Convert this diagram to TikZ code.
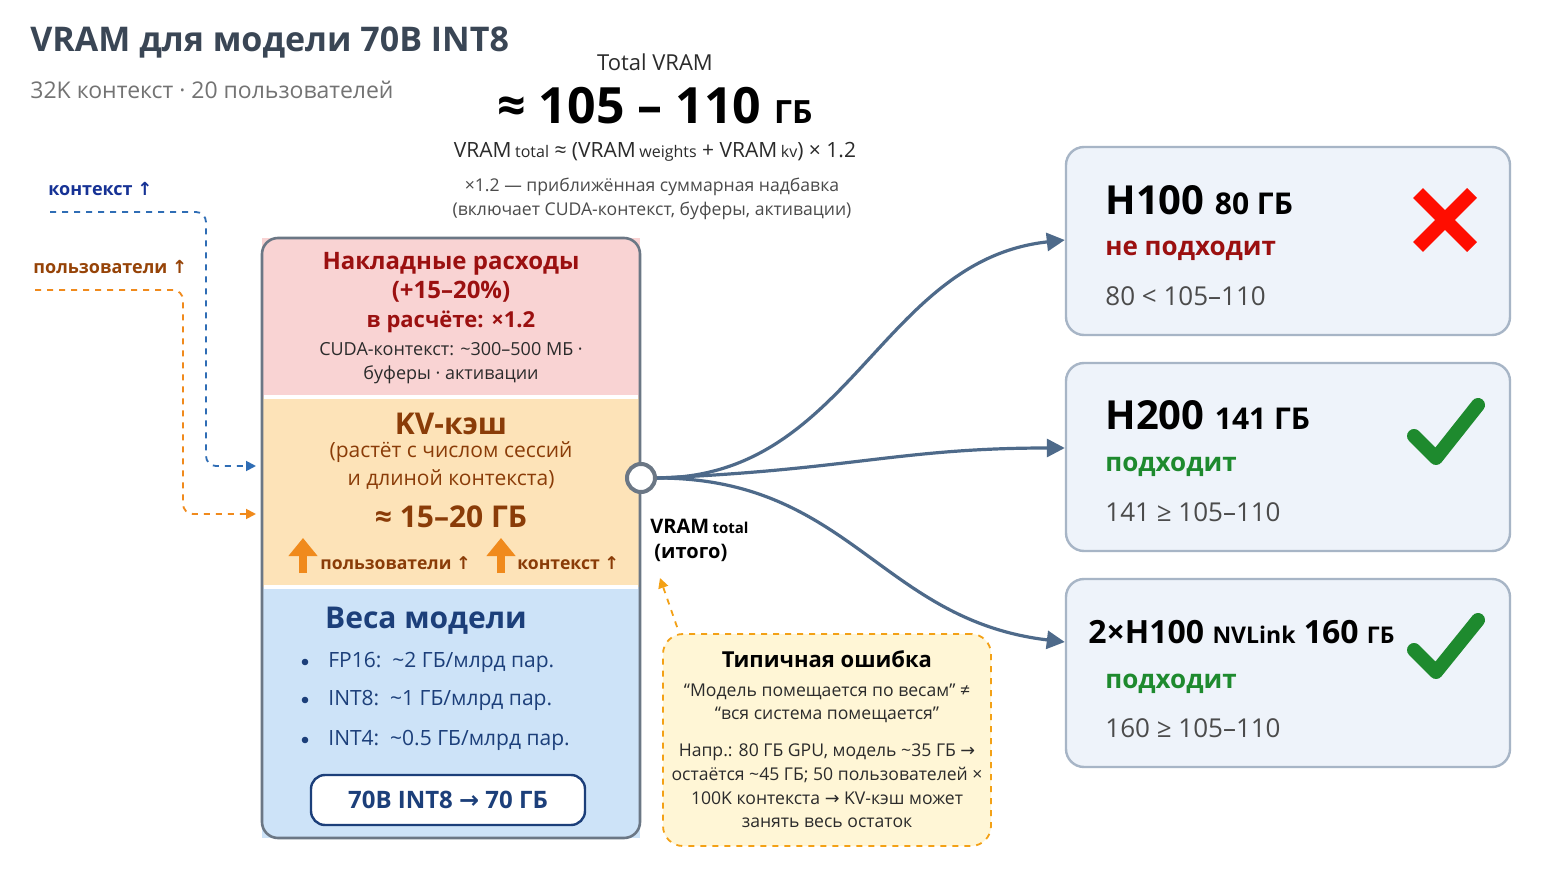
\documentclass[tikz,border=0pt]{standalone}
\usepackage{fontspec}
\setmainfont{Open Sans}
\newfontfamily\djv{DejaVu Sans}
\newcommand{\up}{{\djv ↑}}
\newcommand{\ra}{{\djv →}}
\usetikzlibrary{arrows.meta}
\definecolor{navy}{HTML}{1C3F7A}
\definecolor{dred}{HTML}{9B1010}
\definecolor{brn}{HTML}{8A3C08}
\definecolor{org}{HTML}{F08A1C}
\definecolor{blu}{HTML}{2F6DB5}
\definecolor{cur}{HTML}{4E6A8A}
\definecolor{gpufill}{HTML}{EEF3FA}
\definecolor{gpuline}{HTML}{A7B5C6}
\definecolor{okg}{HTML}{1E8A2E}
\definecolor{txt}{HTML}{2B2B2B}
\definecolor{redf}{HTML}{F9D3D3}
\definecolor{orf}{HTML}{FDE3B8}
\definecolor{blf}{HTML}{CDE3F8}
\definecolor{stk}{HTML}{6B7785}
\definecolor{errf}{HTML}{FFF6D6}
\definecolor{ttl}{HTML}{3A4655}
\begin{document}
\begin{tikzpicture}[x=0.5pt,y=-0.5pt,
  t/.style={inner sep=0pt,anchor=center,text=txt},
  tl/.style={inner sep=0pt,anchor=west,text=txt},
  gpu/.style={draw=gpuline,line width=1.2pt,fill=gpufill,rounded corners=9pt},
  conn/.style={draw=cur,line width=1.6pt,-{Triangle[length=9pt,width=9pt]}},
  dsh/.style={dashed,line width=0.9pt,-{Triangle[length=5pt,width=5pt]}}]
\useasboundingbox (0,0) rectangle (1560,877);
\fill[white] (0,0) rectangle (1560,877);
% titles
\node[tl,text=ttl,font=\bfseries\fontsize{17}{20}\selectfont] (title) at (30,43) {VRAM для модели 70B INT8};
\node[tl,text=gray!90!black,font=\fontsize{11.5}{14}\selectfont] (sub) at (30,90) {32K контекст · 20 пользователей};
\node[t,font=\fontsize{11}{13}\selectfont] (tv) at (655,62) {Total VRAM};
\node[t,text=black,font=\bfseries\fontsize{25}{30}\selectfont] (big) at (655,106) {≈ 105 – 110 {\fontsize{16}{20}\selectfont ГБ}};
\node[t,font=\fontsize{10.5}{13}\selectfont] (form) at (655,152) {VRAM\,{\footnotesize total} ≈ (VRAM\,{\footnotesize weights} + VRAM\,{\footnotesize kv}) × 1.2};
\node[t,text=txt!85,font=\fontsize{8.8}{11}\selectfont,align=center] (note) at (652,199) {×1.2 — приближённая суммарная надбавка\\[1pt](включает CUDA-контекст, буферы, активации)};
% stack
\fill[redf] (262,238) rectangle (640,397);
\fill[orf] (262,397) rectangle (640,587);
\fill[blf] (262,587) rectangle (640,838);
\draw[white,line width=2pt] (264,397) -- (638,397) (264,587) -- (638,587);
\draw[stk,line width=1.3pt,rounded corners=8pt] (262,238) rectangle (640,838);
\node[t,text=dred,font=\bfseries\fontsize{12}{14}\selectfont] (oh) at (451,264) {Накладные расходы};
\node[t,text=dred,font=\bfseries\fontsize{12}{14}\selectfont] (ohp) at (451,292) {(+15–20\%)};
\node[t,text=dred,font=\bfseries\fontsize{11}{13}\selectfont] (ohc) at (451,322) {в расчёте: ×1.2};
\node[t,font=\fontsize{9}{11}\selectfont,align=center] (ohd) at (451,363) {CUDA-контекст: \textasciitilde300–500 МБ ·\\[1pt]буферы · активации};
\node[t,text=brn,font=\bfseries\fontsize{15}{18}\selectfont] (kv) at (451,424) {KV-кэш};
\node[t,text=brn,font=\fontsize{10.5}{13}\selectfont,align=center] (kvd) at (451,466) {(растёт с числом сессий\\[1pt]и длиной контекста)};
\node[t,text=brn,font=\bfseries\fontsize{15}{18}\selectfont] (kvs) at (451,517) {≈ 15–20 ГБ};
\draw[org,line width=4pt,-{Triangle[length=9pt,width=14pt]}] (303,573) -- (303,538);
\draw[org,line width=4pt,-{Triangle[length=9pt,width=14pt]}] (501,573) -- (501,538);
\node[tl,text=brn,font=\bfseries\fontsize{8.8}{11}\selectfont] (ku) at (320,563) {пользователи \up};
\node[tl,text=brn,font=\bfseries\fontsize{8.8}{11}\selectfont] (kc) at (517,563) {контекст \up};
\node[t,text=navy,font=\bfseries\fontsize{15}{18}\selectfont] (w) at (426,621) {Веса модели};
\foreach \y/\s in {662/{FP16:\ \ \textasciitilde2 ГБ/млрд пар.},700/{INT8:\ \ \textasciitilde1 ГБ/млрд пар.},740/{INT4:\ \ \textasciitilde0.5 ГБ/млрд пар.}}{
  \fill[navy] (305,\y) circle (3.3);
  \node[tl,text=navy,font=\fontsize{10.5}{13}\selectfont] at (328,\y) {\s};}
\node[draw=navy,line width=1.2pt,fill=white,rounded corners=7pt,minimum width=137pt,minimum height=25pt,text=navy,font=\bfseries\fontsize{12}{14}\selectfont] (res) at (448,800) {70B INT8 \ra{} 70 ГБ};
% left annotations
\node[tl,text=navy!80!blue,font=\bfseries\fontsize{9}{11}\selectfont] (lc) at (48,189) {контекст \up};
\node[tl,text=brn!90!orange,font=\bfseries\fontsize{9}{11}\selectfont] (lu) at (33,267) {пользователи \up};
\coordinate (c1) at (256,466);
\coordinate (c2) at (256,514);
\draw[blu,dsh,rounded corners=5pt] (50,212) -- (206,212) -- (206,466) -- (c1);
\draw[org,dsh,rounded corners=5pt] (35,290) -- (183,290) -- (183,514) -- (c2);
% hub
\node[circle,draw=stk,line width=2pt,fill=white,minimum size=14pt,inner sep=0pt] (hub) at (641,478) {};
\node[tl,text=black,font=\bfseries\fontsize{10}{12}\selectfont] (vt) at (650,526) {VRAM\,{\fontsize{7.5}{9}\selectfont total}};
\node[tl,text=black,font=\bfseries\fontsize{10}{12}\selectfont] (vi) at (654,553) {(итого)};
% GPU boxes
\node[gpu,minimum width=222pt,minimum height=94pt] (g1) at (1288,241) {};
\node[gpu,minimum width=222pt,minimum height=94pt] (g2) at (1288,457) {};
\node[gpu,minimum width=222pt,minimum height=94pt] (g3) at (1288,673) {};
\node[tl,text=black,font=\bfseries\fontsize{20}{24}\selectfont] at (1105,200) {H100 {\fontsize{15}{18}\selectfont 80 ГБ}};
\node[tl,text=dred,font=\bfseries\fontsize{13}{15}\selectfont] at (1105,251) {не подходит};
\node[tl,text=txt!85,font=\fontsize{13}{15}\selectfont] at (1105,296) {80 < 105–110};
\node[tl,text=black,font=\bfseries\fontsize{20}{24}\selectfont] at (1105,415) {H200 {\fontsize{15}{18}\selectfont 141 ГБ}};
\node[tl,text=okg,font=\bfseries\fontsize{13}{15}\selectfont] at (1105,467) {подходит};
\node[tl,text=txt!85,font=\fontsize{13}{15}\selectfont] at (1105,512) {141 ≥ 105–110};
\node[tl,text=black,font=\bfseries\fontsize{16}{22}\selectfont] at (1088,632) {2×H100 {\fontsize{11.5}{16}\selectfont NVLink} 160 {\fontsize{11.5}{16}\selectfont ГБ}};
\node[tl,text=okg,font=\bfseries\fontsize{13}{15}\selectfont] at (1105,684) {подходит};
\node[tl,text=txt!85,font=\fontsize{13}{15}\selectfont] at (1105,728) {160 ≥ 105–110};
\draw[red!90!orange,line width=7pt] (1418,193) -- (1472,247) (1472,193) -- (1418,247);
\draw[okg,line width=7pt,line cap=round,line join=round] (1414,436) -- (1436,458) -- (1478,405);
\draw[okg,line width=7pt,line cap=round,line join=round] (1414,650) -- (1436,672) -- (1478,620);
% connectors
\draw[conn] (hub.east) .. controls (850,478) and (880,260) .. (g1.west|-0,240);
\draw[conn] (hub.east) .. controls (850,470) and (900,448) .. (g2.west|-0,448);
\draw[conn] (hub.east) .. controls (850,478) and (880,620) .. (g3.west|-0,642);
% error box
\node[draw=org!80!yellow,dashed,line width=0.9pt,fill=errf,rounded corners=10pt,minimum width=164pt,minimum height=106pt] (err) at (827,740) {};
\node[t,text=black,font=\bfseries\fontsize{11}{13}\selectfont] at (827,659) {Типичная ошибка};
\node[t,font=\fontsize{8.8}{11.5}\selectfont,align=center] at (827,703) {“Модель помещается по весам” ≠\\[0pt]“вся система помещается”};
\node[t,font=\fontsize{8.8}{11.8}\selectfont,align=center] at (827,786) {Напр.: 80 ГБ GPU, модель \textasciitilde35 ГБ \ra\\[0pt]остаётся \textasciitilde45 ГБ; 50 пользователей ×\\[0pt]100K контекста \ra{} KV-кэш может\\[0pt]занять весь остаток};
\draw[org!80!yellow,dsh] (err.north west) ++(15,-6) -- (660,578);
\end{tikzpicture}
\end{document}
